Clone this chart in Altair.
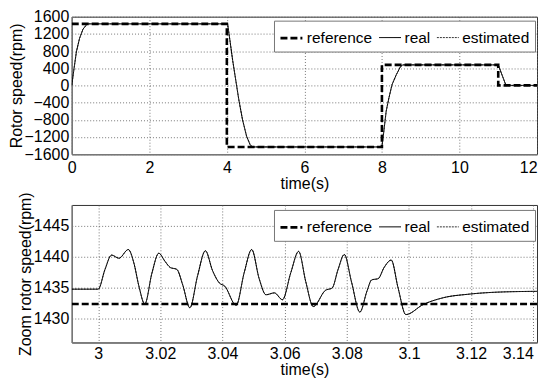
import altair as alt
import pandas as pd

FONT = "Liberation Sans"
SERIES = ["reference", "real", "estimated"]

# ---- top panel (0..12 s) ----
top_ref_t = [0, 4, 4, 8, 8, 11, 11, 12]
top_ref_v = [1432.4, 1432.4, -1432.4, -1432.4, 477.5, 477.5, 0, 0]
top_real_t = [0, 0.06, 0.12, 0.2, 0.29, 0.4, 4.0, 4.02, 4.08, 4.15, 4.23, 4.31, 4.405,
              4.51, 4.6, 4.66, 8.0, 8.05, 8.11, 8.18, 8.26, 8.37, 8.48, 8.54, 11.0, 11.2, 12]
top_real_v = [0, 400, 785, 1092, 1309, 1432.4, 1432.4, 1432.4, 1046, 584, 122, -339, -801,
              -1185, -1378, -1432.4, -1432.4, -1062, -600, -293, 16, 247, 439, 477.5, 477.5, 0, 0]
top_est_t = list(top_real_t)
top_est_v = list(top_real_v)

# ---- bottom panel (zoom) ----
bot_ref_t = [2.9915, 3.1412]
bot_ref_v = [1432.4, 1432.4]
bot_real_t = [2.9915, 3.0, 3.0022, 3.0043, 3.0067, 3.0097, 3.0115, 3.0131, 3.015, 3.0173,
              3.0195, 3.0215, 3.0232, 3.0253, 3.0272, 3.0295, 3.032, 3.0345, 3.0368, 3.039,
              3.0407, 3.0444, 3.047, 3.0494, 3.0518, 3.054, 3.0567, 3.0593, 3.062, 3.0645,
              3.0668, 3.0692, 3.0731, 3.0753, 3.0772, 3.0792, 3.0815, 3.0842, 3.0865, 3.088,
              3.0901, 3.092, 3.0943, 3.0965, 3.099, 3.1045, 3.1109, 3.1194, 3.13, 3.1412]
bot_real_v = [1434.8, 1434.8, 1438.0, 1440.3, 1439.8, 1441.2, 1439.0, 1435.3, 1432.4, 1437.4,
              1440.6, 1439.3, 1438.3, 1438.0, 1435.5, 1431.8, 1437.0, 1441.0, 1437.8, 1435.8,
              1435.3, 1432.2, 1437.5, 1441.2, 1436.5, 1433.9, 1434.2, 1433.1, 1437.5, 1440.9,
              1436.0, 1432.0, 1434.6, 1435.0, 1438.0, 1440.4, 1436.0, 1431.1, 1434.5, 1436.3,
              1436.5, 1438.3, 1439.5, 1435.0, 1430.7, 1432.3, 1433.4, 1434.0, 1434.35, 1434.45]
bot_est_t = list(bot_real_t)
bot_est_v = list(bot_real_v)

top_x_ticks = [0, 2, 4, 6, 8, 10, 12]
top_y_ticks = [-1600, -1200, -800, -400, 0, 400, 800, 1200, 1600]
bot_x_ticks = [3.0, 3.02, 3.04, 3.06, 3.08, 3.1, 3.12, 3.14]
bot_y_ticks = [1430, 1435, 1440, 1445]


def frame(ref_t, ref_v, real_t, real_v, est_t, est_v):
    rows = []
    for name, ts, vs in (("reference", ref_t, ref_v), ("real", real_t, real_v),
                         ("estimated", est_t, est_v)):
        for i, (t, v) in enumerate(zip(ts, vs)):
            rows.append({"t": t, "v": v, "s": name, "o": i})
    return pd.DataFrame(rows)


def legend(ly):
    return alt.Legend(title=None, orient="none", legendX=203, legendY=ly,
                      direction="horizontal", symbolType="stroke", symbolSize=484,
                      symbolStrokeColor="black", labelFont=FONT, labelFontSize=15.5,
                      labelColor="black", fillColor="white", strokeColor="#777",
                      padding=5, columnPadding=4, labelOffset=3)


def panel(df, xdom, xticks, xfmt, xpad, xlast, ydom, yticks, ytitle, ly, interp):
    lg = legend(ly)
    return alt.Chart(df).mark_line(clip=True, interpolate=interp, color="black").encode(
        x=alt.X("t:Q", scale=alt.Scale(domain=xdom, nice=False, zero=False),
                axis=alt.Axis(values=xticks, format=xfmt, title="time(s)",
                              labelPadding=xpad, labelFlush=False,
                              labelAlign={"condition": {"test": f"datum.value >= {xlast}",
                                                        "value": "right"},
                                          "value": "center"})),
        y=alt.Y("v:Q", scale=alt.Scale(domain=ydom, nice=False, zero=False),
                axis=alt.Axis(values=yticks, format="d", title=ytitle, labelPadding=3)),
        detail="s:N",
        order="o:Q",
        strokeDash=alt.StrokeDash("s:N", scale=alt.Scale(domain=SERIES,
                                  range=[[7, 3], [1, 0], [2, 1]]), legend=lg),
        strokeWidth=alt.StrokeWidth("s:N", scale=alt.Scale(type="ordinal", domain=SERIES,
                                    range=[2.6, 1.0, 0.8]), legend=lg),
    ).properties(width=467, height=138)


top = panel(frame(top_ref_t, top_ref_v, top_real_t, top_real_v, top_est_t, top_est_v),
            [0, 12], top_x_ticks, "d", 5, 11.9, [-1600, 1600], top_y_ticks,
            "Rotor speed(rpm)", 4, "linear")
bot = panel(frame(bot_ref_t, bot_ref_v, bot_real_t, bot_real_v, bot_est_t, bot_est_v),
            [2.9915, 3.1412], bot_x_ticks, ".2~f", 3, 3.139, [1426.2, 1448.4], bot_y_ticks,
            "Zoom rotor speed(rpm)", 5, "monotone")

chart = alt.vconcat(top, bot, spacing=51, bounds="flush").resolve_scale(
    strokeDash="independent", strokeWidth="independent"
).resolve_legend(
    strokeDash="independent", strokeWidth="independent"
).properties(
    padding={"left": -1, "top": -1, "right": 0, "bottom": 0}, background="white"
).configure_view(
    stroke="#333", strokeWidth=1
).configure_axis(
    labelFont=FONT, labelFontSize=16, labelColor="black", labelPadding=4,
    titleFont=FONT, titleFontSize=16, titleFontWeight="normal", titleColor="black",
    titlePadding=0, ticks=False, domainColor="#777", domainWidth=1.5,
    grid=True, gridColor="#555", gridDash=[1, 2], gridWidth=0.8, gridOpacity=1,
    labelOverlap=False
)

chart.save("out.html", embed_options={"renderer": "svg", "actions": False})
